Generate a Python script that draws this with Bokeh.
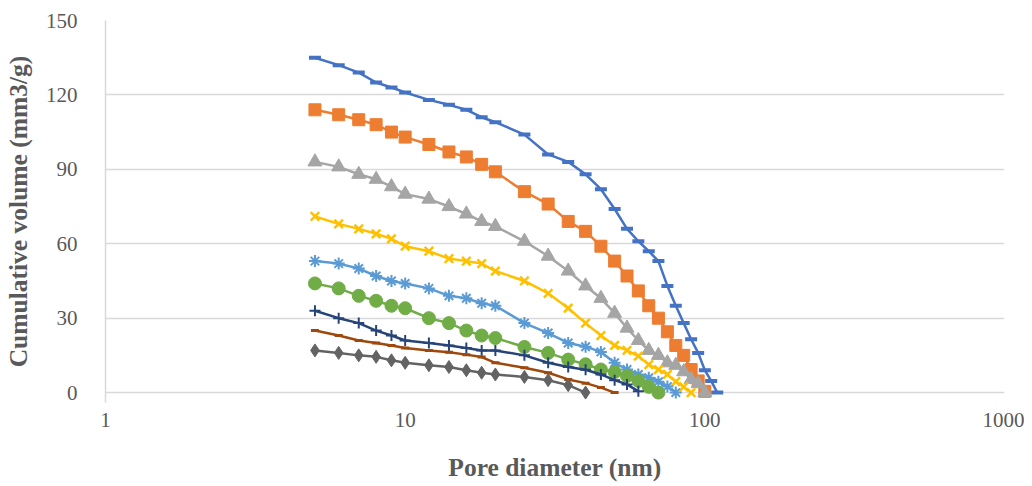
from bokeh.plotting import figure
from bokeh.models import FixedTicker, Range1d, ColumnDataSource, NumeralTickFormatter
from bokeh.embed import file_html
from bokeh.resources import INLINE

# Pore diameters (nm) shared by all series
DIAM = [5, 6, 7, 8, 9, 10, 12, 14, 16, 18, 20, 25, 30, 35, 40, 45, 50, 55,
        60, 65, 70, 75, 80, 85, 90, 95, 100, 105, 110]

s1 = [135, 132, 129, 125, 123, 121, 118, 116, 114, 111, 109, 104, 96, 93, 88,
      82, 74, 66, 61, 57, 53, 43, 35, 28, 21.5, 16, 9, 4.7, 0]
s2 = [114, 112, 110, 108, 105, 103, 100, 97, 95, 92, 89, 81, 76, 69, 65, 59,
      53, 47, 41, 35, 30, 24.5, 19, 15, 9.3, 4.7, 0.5]
s3 = [93, 91, 88, 86, 83, 80, 78, 75, 72, 69, 67, 61, 55, 49, 43, 38, 32, 26,
      21, 17, 15, 12, 11, 8.4, 5.3, 3.6, 0]
s4 = [71, 68, 66, 64, 62, 59, 57, 54, 53, 52, 49, 45, 40, 34, 28, 23, 19, 17,
      14.7, 11.3, 9.3, 7.3, 4.4, 2.3, 0]
s5 = [53, 52, 50, 47, 45, 44, 42, 39, 38, 36, 35, 28, 24, 20, 18.5, 16.4, 12,
      9.3, 7.3, 6, 4.4, 2.4, 0]
s6 = [44, 42, 39, 37, 35, 34, 30, 28, 25, 23, 22, 18.4, 16, 13.3, 11.4, 9.3,
      8.3, 6.7, 4.7, 2.3, 0]
s7 = [33, 30, 28, 25, 23, 21, 20, 19, 18, 17, 17, 15, 12, 10.3, 9.2, 7.3, 5,
      3.3, 0.5]
s8 = [25, 23, 21, 20, 19, 18, 17, 16.3, 15.3, 14.3, 12, 10, 8, 5.3, 3.8, 2, 0]
s9 = [17, 16, 15, 14.4, 13, 12, 11, 10.3, 9, 8, 7.3, 6.3, 5, 3, 0]

SERIES = [s1, s2, s3, s4, s5, s6, s7, s8, s9]
COLORS = ["#4472C4", "#ED7D31", "#A5A5A5", "#FFC000", "#5B9BD5",
          "#70AD47", "#264478", "#9E480E", "#636363"]
MARKERS = ["dash", "square", "triangle", "x", "asterisk",
           "circle", "cross", "dash", "diamond"]
MSIZE = [12, 12, 14, 12, 12, 13, 11, 8, 13]
MLW = [4, 1, 1, 2.5, 2, 1, 2, 3, 1]

Y_TICKS = [0, 30, 60, 90, 120, 150]
X_TICKS = [1, 10, 100, 1000]

FONT = "Liberation Serif"
TXT = "#595959"
GRID = "#d9d9d9"

p = figure(width=1024, height=484, x_axis_type="log",
           x_range=Range1d(1, 1000), y_range=Range1d(-4, 150),
           output_backend="svg", toolbar_location=None,
           min_border_left=105, min_border_right=20,
           min_border_top=20, min_border_bottom=80)
p.outline_line_color = None
p.background_fill_color = "white"
p.border_fill_color = "white"

p.xgrid.visible = False
p.ygrid.ticker = FixedTicker(ticks=Y_TICKS)
p.ygrid.grid_line_color = GRID
p.ygrid.grid_line_width = 1.5

p.xaxis.ticker = FixedTicker(ticks=X_TICKS, minor_ticks=[])
p.xaxis.formatter = NumeralTickFormatter(format="0")
p.yaxis.ticker = FixedTicker(ticks=Y_TICKS, minor_ticks=[])

for ax in (p.xaxis, p.yaxis):
    ax.major_tick_line_color = None
    ax.minor_tick_line_color = None
    ax.major_label_text_font = FONT
    ax.major_label_text_font_size = "21px"
    ax.major_label_text_color = TXT
    ax.axis_label_text_font = FONT
    ax.axis_label_text_font_size = "25.5px"
    ax.axis_label_text_font_style = "bold"
    ax.axis_label_text_color = TXT

p.xaxis.axis_line_color = None
p.yaxis.axis_line_color = GRID
p.yaxis.axis_line_width = 1.5

p.xaxis.axis_label = "Pore diameter (nm)"
p.yaxis.axis_label = "Cumulative volume (mm3/g)"
p.xaxis.major_label_standoff = 4
p.xaxis.axis_label_standoff = 23
p.yaxis.major_label_standoff = 22
p.yaxis.axis_label_standoff = 10

for vals, col, mk, ms, mlw in zip(SERIES, COLORS, MARKERS, MSIZE, MLW):
    src = ColumnDataSource(dict(x=DIAM[:len(vals)], y=vals))
    p.line("x", "y", source=src, line_color=col, line_width=2.5)
    p.scatter("x", "y", source=src, marker=mk, size=ms,
              fill_color=col, line_color=col, line_width=mlw)

open("out.html", "w").write(file_html(p, INLINE))
